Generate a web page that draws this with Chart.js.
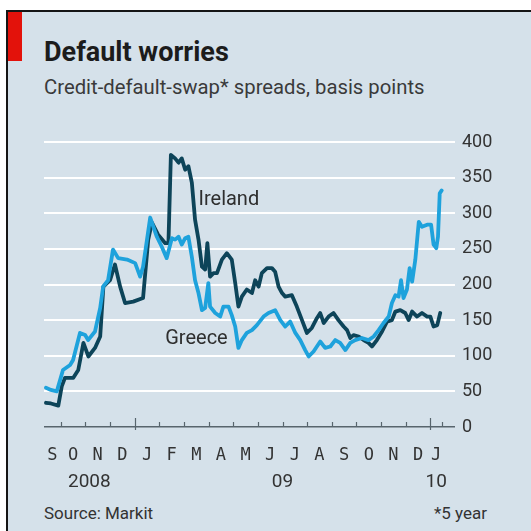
<!DOCTYPE html>
<html>
<head>
<meta charset="utf-8">
<script src="https://cdn.jsdelivr.net/npm/chart.js@4/dist/chart.umd.min.js"></script>
<style>
html,body{margin:0;padding:0;width:531px;height:531px;overflow:hidden;background:#fff;}
#panel{position:absolute;left:6px;top:10px;width:525px;height:521px;background:#d5e1ea;border-top:2px solid #151515;border-left:2px solid #151515;box-sizing:border-box;}
#red{position:absolute;left:8px;top:12px;width:14px;height:49px;background:#e3120b;}
.t{position:absolute;font-family:Roboto,"Noto Sans",sans-serif;line-height:1;white-space:nowrap;}
#title{left:44px;top:39px;font-size:27px;font-weight:700;color:#1c1c1c;}
#subtitle{left:44px;top:77px;font-size:20.3px;color:#3a3a3a;}
#source{left:44px;top:505px;font-size:17px;color:#333;}
#note{right:44px;top:505px;font-size:17px;color:#333;}
#c{position:absolute;left:0;top:0;}
</style>
</head>
<body>
<div id="panel"></div>
<div id="red"></div>
<div class="t" id="title">Default worries</div>
<div class="t" id="subtitle">Credit-default-swap* spreads, basis points</div>
<div class="t" id="source">Source: Markit</div>
<div class="t" id="note">*5 year</div>
<canvas id="c" width="531" height="531"></canvas>
<script>
// x values: months since 1 September 2008
const monthLabels = ['S','O','N','D','J','F','M','A','M','J','J','A','S','O','N','D','J'];
const yearLabels = ['2008','09','10'];
const yearStarts = [4, 16];           // Jan 2009, Jan 2010 (months since Sep 2008)
const yTicks = [0,50,100,150,200,250,300,350,400];
const xStart = 0.32, xLastTick = 16.47, xEnd = 17.0;

const irelandX = [0.40,0.60,0.90,1.04,1.17,1.51,1.71,1.92,2.12,2.39,2.60,2.73,3.00,3.20,3.41,3.61,3.94,4.34,4.55,4.70,4.95,5.24,5.37,5.47,5.64,5.78,5.91,6.05,6.18,6.32,6.45,6.59,6.73,6.86,6.95,7.06,7.20,7.34,7.54,7.74,7.94,8.08,8.21,8.35,8.55,8.76,8.89,9.03,9.16,9.37,9.57,9.70,9.84,9.98,10.11,10.38,10.58,10.79,10.99,11.19,11.40,11.53,11.67,11.87,12.07,12.27,12.48,12.62,12.75,12.88,13.09,13.29,13.49,13.63,13.83,14.04,14.24,14.44,14.58,14.78,14.98,15.12,15.26,15.46,15.66,15.87,16.00,16.13,16.28,16.40];
const irelandY = [34,33,30,57,69,69,80,118,99,111,127,197,206,228,197,174,176,181,263,287,270,258,258,382,377,371,377,361,366,343,291,263,225,221,258,211,216,216,235,244,235,202,169,183,193,188,206,197,216,223,223,218,197,188,183,185,169,150,132,139,153,160,146,155,160,150,141,136,125,129,127,122,118,113,122,134,148,150,162,164,160,150,162,155,160,155,155,141,143,160];

const greeceX = [0.40,0.60,0.84,1.09,1.38,1.50,1.78,1.99,2.11,2.39,2.60,2.72,2.92,3.12,3.33,3.69,4.02,4.22,4.34,4.63,4.90,5.10,5.30,5.51,5.64,5.78,5.91,6.05,6.18,6.32,6.45,6.59,6.73,6.86,6.99,7.06,7.27,7.47,7.60,7.81,7.94,8.08,8.21,8.35,8.55,8.76,8.96,9.23,9.43,9.70,9.91,10.11,10.31,10.52,10.72,10.92,11.06,11.26,11.53,11.73,11.94,12.14,12.34,12.55,12.75,12.95,13.22,13.49,13.70,13.90,14.10,14.31,14.44,14.58,14.71,14.81,14.91,15.05,15.16,15.26,15.39,15.53,15.66,15.87,16.03,16.13,16.24,16.31,16.38,16.46];
const greeceY = [55,52,50,80,87,94,132,129,122,134,167,197,206,249,237,235,230,211,225,294,267,253,237,265,263,267,256,265,267,239,206,188,164,167,202,169,160,155,169,169,157,141,111,122,132,136,143,155,160,164,150,141,148,132,122,108,99,106,120,111,113,122,118,108,118,122,125,122,127,136,146,155,174,185,183,206,181,193,223,204,235,288,281,284,284,256,251,267,328,332];

const seriesNames = ['Ireland','Greece'];
const nameAnchorX = [6.59, 5.24];
const nameAnchorY = [312, 117];

const pts = (xs, ys) => xs.map((x, i) => ({x, y: ys[i]}));
const AXIS = '#58656d';

const econPlugin = {
  id: 'econ',
  afterDraw(chart) {
    const ctx = chart.ctx, xs = chart.scales.x, ys = chart.scales.y;
    const y0 = ys.getPixelForValue(0);
    ctx.save();
    // tick marks
    ctx.strokeStyle = AXIS; ctx.lineWidth = 1.2;
    const tickVals = [];
    for (let m = 1; m <= 16; m++) tickVals.push(m);
    tickVals.push(xLastTick);
    tickVals.forEach(v => {
      const px = Math.round(xs.getPixelForValue(v)) + 0.5;
      const big = yearStarts.includes(v);
      ctx.beginPath();
      ctx.moveTo(px, y0 - (big ? 9 : 5));
      ctx.lineTo(px, y0 + (big ? 3 : 0));
      ctx.stroke();
    });
    // month letters
    ctx.fillStyle = '#333';
    ctx.textAlign = 'center'; ctx.textBaseline = 'alphabetic';
    ctx.font = '17px "DejaVu Sans Mono", monospace';
    monthLabels.forEach((lab, i) => {
      const a = Math.max(i, xStart), b = Math.min(i + 1, xLastTick);
      ctx.fillText(lab, xs.getPixelForValue((a + b) / 2), 459.5);
    });
    // years
    ctx.font = '19px Roboto, sans-serif';
    const bounds = [xStart, ...yearStarts, xLastTick];
    yearLabels.forEach((lab, i) => {
      ctx.fillText(lab, xs.getPixelForValue((bounds[i] + bounds[i + 1]) / 2), 486.5);
    });
    // series names
    ctx.textAlign = 'left';
    ctx.font = '20px Roboto, sans-serif';
    ctx.fillStyle = '#2e2e2e';
    seriesNames.forEach((n, i) => {
      ctx.fillText(n, xs.getPixelForValue(nameAnchorX[i]), ys.getPixelForValue(nameAnchorY[i]));
    });
    ctx.restore();
  }
};

new Chart(document.getElementById('c'), {
  type: 'line',
  data: {
    datasets: [
      { label: 'Greece', data: pts(greeceX, greeceY), borderColor: '#1ea2dc', borderWidth: 3.8 },
      { label: 'Ireland', data: pts(irelandX, irelandY), borderColor: '#0d4459', borderWidth: 3.8 }
    ]
  },
  options: {
    responsive: false,
    devicePixelRatio: 1,
    animation: false,
    layout: { padding: { left: 44, top: 142, right: 0, bottom: 0 } },
    elements: {
      point: { radius: 0 },
      line: { tension: 0, borderJoinStyle: 'round', borderCapStyle: 'round', fill: false }
    },
    plugins: { legend: { display: false }, tooltip: { enabled: false }, title: { display: false } },
    scales: {
      x: {
        type: 'linear', min: xStart, max: xEnd,
        grid: { display: false }, border: { display: false },
        ticks: { display: false },
        afterFit: s => { s.height = 104; }
      },
      y: {
        position: 'right', min: 0, max: 400,
        afterBuildTicks: s => { s.ticks = yTicks.map(v => ({ value: v })); },
        grid: {
          drawTicks: false,
          color: c => c.tick && c.tick.value === 0 ? AXIS : '#ffffff',
          lineWidth: c => c.tick && c.tick.value === 0 ? 1.5 : 2
        },
        border: { display: false },
        ticks: { padding: 7, color: '#333', font: { family: 'Roboto', size: 18 } },
        afterFit: s => { s.width = 76; }
      }
    }
  },
  plugins: [econPlugin]
});
</script>
</body>
</html>
